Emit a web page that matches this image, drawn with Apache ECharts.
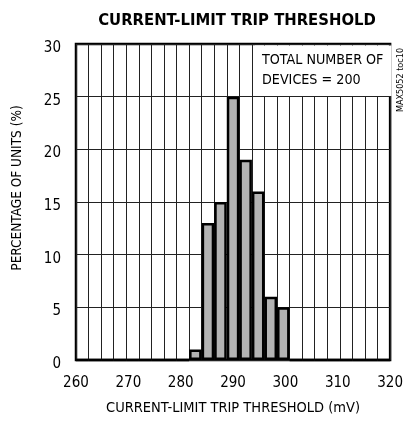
<!DOCTYPE html>
<html>
<head>
<meta charset="utf-8">
<script src="https://cdn.jsdelivr.net/npm/echarts@6/dist/echarts.min.js"></script>
<style>
html,body{margin:0;padding:0;background:#fff;}
#chart{width:406px;height:421px;}
</style>
</head>
<body>
<div id="chart"></div>
<script>
// Histogram bins (25 equal bins spanning 260–320 mV); values are % of units
const binIndex = ['b0','b1','b2','b3','b4','b5','b6','b7','b8','b9','b10','b11','b12','b13','b14','b15','b16','b17','b18','b19','b20','b21','b22','b23','b24'];
const percentOfUnits = [0,0,0,0,0,0,0,0,0,1,13,15,25,19,16,6,5,0,0,0,0,0,0,0,0];
const xTickValues = [260, 270, 280, 290, 300, 310, 320];
const yTickValues = [0, 5, 10, 15, 20, 25, 30];

const FONT = "'Liberation Sans Narrow', 'DejaVu Sans Condensed', sans-serif";
const chart = echarts.init(document.getElementById('chart'), null, {renderer: 'canvas'});

chart.setOption({
  animation: false,
  backgroundColor: '#fff',
  title: {
    text: 'CURRENT-LIMIT TRIP THRESHOLD',
    left: 232,
    top: 7,
    textAlign: 'center',
    textStyle: {fontFamily: FONT, fontWeight: 'bold', fontSize: 16.5, color: '#000'}
  },
  grid: {
    left: 76, top: 44, right: 13, bottom: 61,
    show: true, borderColor: '#000', borderWidth: 2.5, backgroundColor: 'transparent'
  },
  xAxis: [
    {
      type: 'category',
      data: binIndex,
      boundaryGap: true,
      axisLine: {show: false},
      axisTick: {show: false},
      axisLabel: {show: false},
      splitLine: {show: true, interval: 0, lineStyle: {color: '#222', width: 1}}
    },
    {
      type: 'value',
      min: xTickValues[0],
      max: xTickValues[xTickValues.length - 1],
      interval: 10,
      position: 'bottom',
      axisLine: {show: false},
      axisTick: {show: false},
      splitLine: {show: false},
      axisLabel: {margin: 16, fontFamily: FONT, fontSize: 15, color: '#000'},
      name: 'CURRENT-LIMIT TRIP THRESHOLD (mV)',
      nameLocation: 'middle',
      nameGap: 41,
      nameTextStyle: {fontFamily: FONT, fontSize: 14.5, color: '#000'}
    }
  ],
  yAxis: {
    type: 'value',
    min: yTickValues[0],
    max: yTickValues[yTickValues.length - 1],
    interval: 5,
    axisLine: {show: false},
    axisTick: {show: false},
    axisLabel: {margin: 15, fontFamily: FONT, fontSize: 15, color: '#000', verticalAlign: 'top', lineHeight: 8},
    splitLine: {show: true, lineStyle: {color: '#222', width: 1}},
    name: 'PERCENTAGE OF UNITS (%)',
    nameLocation: 'middle',
    nameGap: 52,
    nameTextStyle: {fontFamily: FONT, fontSize: 13.5, color: '#000', padding: [0, 0, 0, 28]}
  },
  graphic: [
    {
      type: 'rect', z: 100,
      shape: {x: 255, y: 45.5, width: 136.5, height: 50.5},
      style: {fill: '#fff'}
    },
    {
      type: 'text', z: 101, x: 262, y: 50,
      style: {text: 'TOTAL NUMBER OF\nDEVICES = 200', font: "14.2px 'Liberation Sans Narrow', 'DejaVu Sans Condensed', sans-serif", fill: '#000', lineHeight: 20.5}
    },
    {
      type: 'text', z: 101, x: 396, y: 80, rotation: Math.PI / 2,
      style: {text: 'MAX5052 toc10', font: "9px 'Liberation Sans Narrow', 'DejaVu Sans Condensed', sans-serif", fill: '#000', align: 'center', verticalAlign: 'top'}
    }
  ],
  series: [{
    type: 'bar',
    xAxisIndex: 0,
    data: percentOfUnits,
    barCategoryGap: '0%',
    itemStyle: {color: '#b3b3b3', borderColor: '#000', borderWidth: 2.5},
    z: 5
  }]
});
</script>
</body>
</html>
